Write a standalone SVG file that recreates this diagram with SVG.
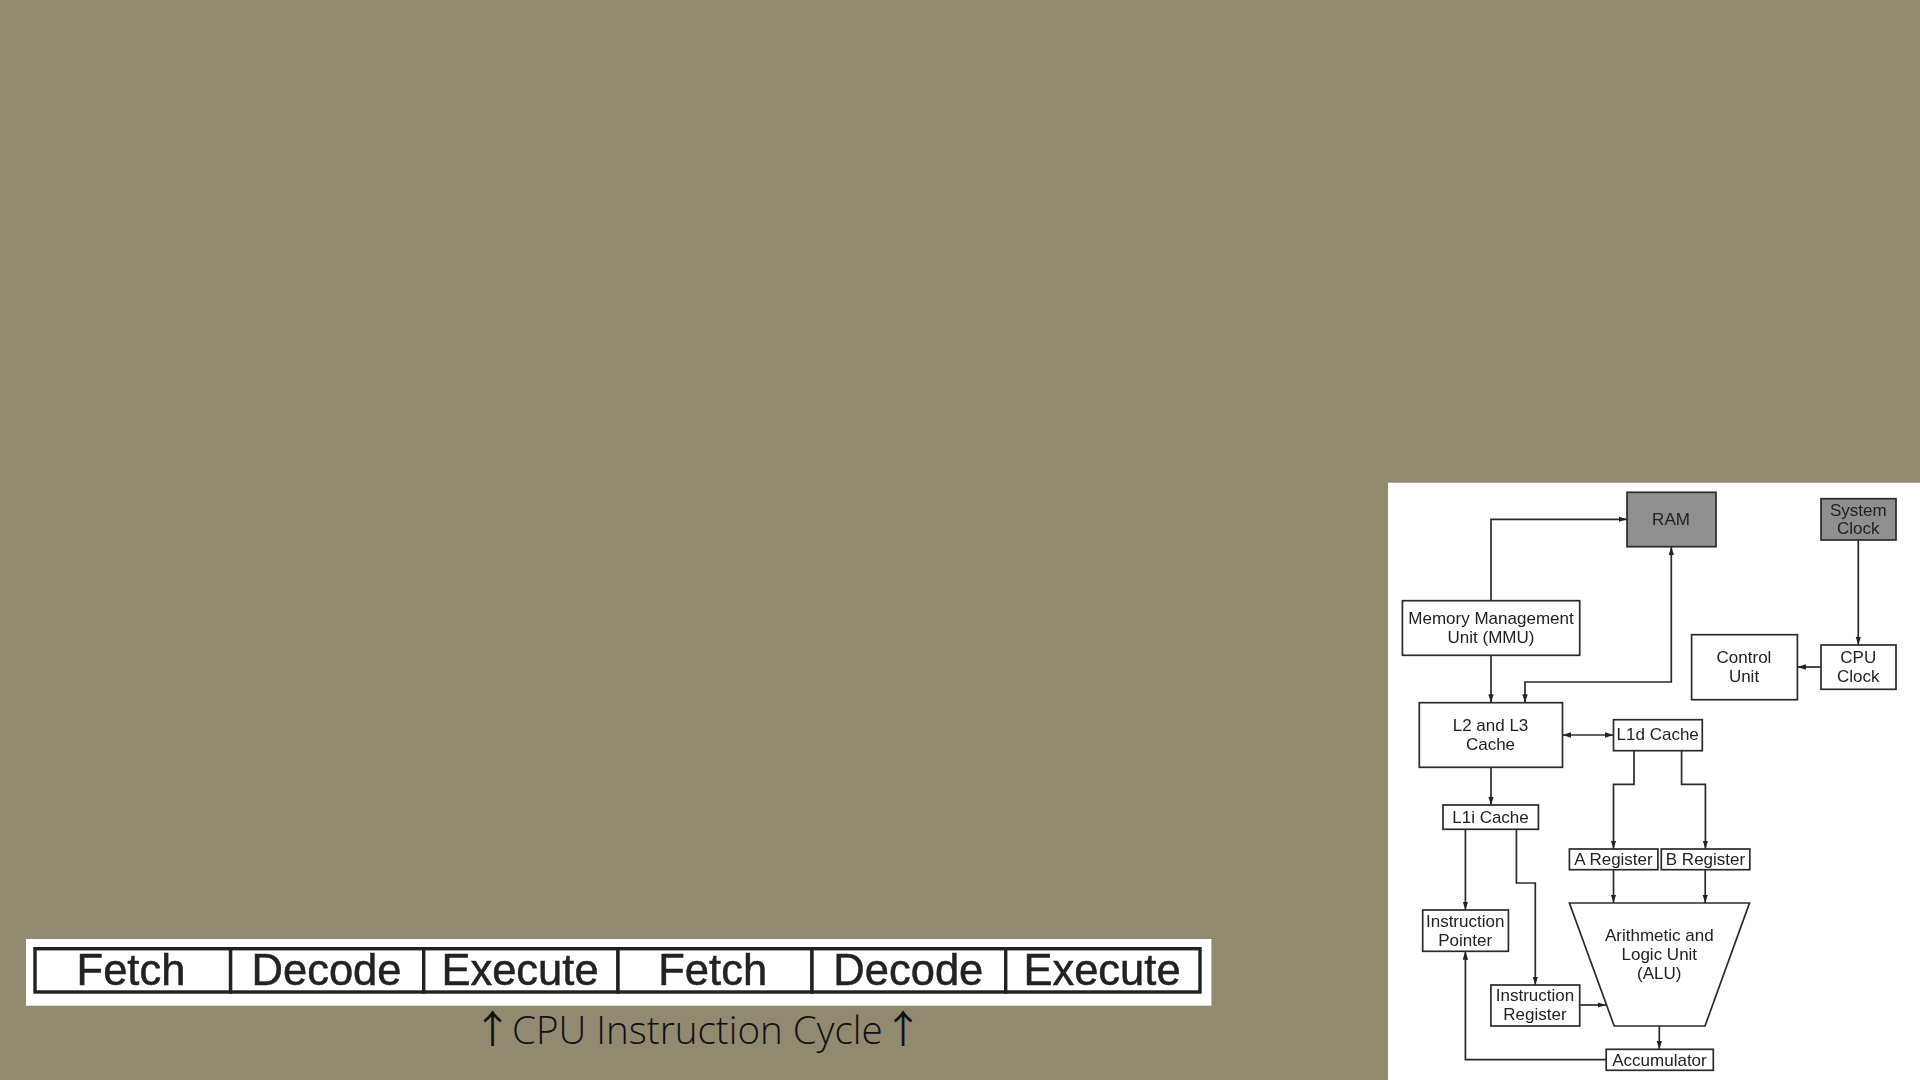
<svg xmlns="http://www.w3.org/2000/svg" width="1920" height="1080" viewBox="0 0 1920 1080">
<style>
.box{fill:#fff;stroke:#2b2b2b;stroke-width:1.7}
.dark{fill:#8f8f8f}
.t{font-family:"Liberation Sans",Arial,sans-serif;font-size:17px;fill:#222;text-anchor:middle}
.c{fill:none;stroke:#2b2b2b;stroke-width:1.7}
.cell{fill:#fff;stroke:#222;stroke-width:3.4}
.big{font-family:"Liberation Sans",Arial,sans-serif;font-size:43.5px;fill:#222;stroke:#222;stroke-width:.5;text-anchor:middle}
.cap{font-family:"Open Sans",sans-serif;font-weight:300;font-size:38.6px;fill:#111}
.arr{font-family:"Noto Sans CJK JP",sans-serif;font-size:38.6px;fill:#111;text-anchor:middle}
</style>
<defs>
<marker id="a" markerUnits="userSpaceOnUse" markerWidth="9" markerHeight="7" refX="8.5" refY="3.5" orient="auto-start-reverse"><path d="M0 .8L8.5 3.5L0 6.2z" fill="#222"/></marker>
<filter id="soft" x="-2%" y="-2%" width="104%" height="104%"><feGaussianBlur stdDeviation="0.5"/></filter>
<filter id="softer" x="-2%" y="-10%" width="104%" height="120%"><feGaussianBlur stdDeviation="0.75"/></filter>
</defs>
<rect width="1920" height="1080" fill="#918a70"/>
<rect id="panel" x="1388" y="482.7" width="532" height="597.3" fill="#fff"/>
<g filter="url(#soft)">
<g id="connectors">
<path class="c" marker-end="url(#a)" d="M1491 600.7V519.3H1627"/>
<path class="c" marker-end="url(#a)" d="M1491 655.3V702.7"/>
<path class="c" marker-start="url(#a)" marker-end="url(#a)" d="M1671.3 546.7V682H1525V702.7"/>
<path class="c" marker-end="url(#a)" d="M1858.3 540V645"/>
<path class="c" marker-end="url(#a)" d="M1821 667H1797.4"/>
<path class="c" marker-start="url(#a)" marker-end="url(#a)" d="M1562.5 735H1613.5"/>
<path class="c" marker-end="url(#a)" d="M1491 767.3V805"/>
<path class="c" marker-end="url(#a)" d="M1634 750.7V784.3H1613.5V849"/>
<path class="c" marker-end="url(#a)" d="M1681.6 750.7V784.3H1705.4V849"/>
<path class="c" marker-end="url(#a)" d="M1613.5 869.7V903"/>
<path class="c" marker-end="url(#a)" d="M1705.2 869.7V903"/>
<path class="c" marker-end="url(#a)" d="M1465.4 829.3V910"/>
<path class="c" marker-end="url(#a)" d="M1516.4 829.3V883H1535.3V985"/>
<path class="c" marker-end="url(#a)" d="M1579.7 1005H1606"/>
<path class="c" marker-end="url(#a)" d="M1659.3 1026V1049.3"/>
<path class="c" marker-end="url(#a)" d="M1606.2 1059.7H1465.4V951.3"/>
</g>
<g id="ram"><rect class="box dark" x="1627" y="492.3" width="89" height="54.4"/><text class="t" x="1671" y="525">RAM</text></g>
<g id="system-clock"><rect class="box dark" x="1821" y="498.7" width="75" height="41.3"/><text class="t" x="1858.3" y="515.7">System</text><text class="t" x="1858.3" y="534">Clock</text></g>
<g id="mmu"><rect class="box" x="1402.4" y="600.7" width="177.3" height="54.6"/><text class="t" x="1491" y="624.3">Memory Management</text><text class="t" x="1491" y="643.3">Unit (MMU)</text></g>
<g id="control-unit"><rect class="box" x="1691.6" y="634.7" width="105.8" height="65"/><text class="t" x="1744" y="663.3">Control</text><text class="t" x="1744" y="682.3">Unit</text></g>
<g id="cpu-clock"><rect class="box" x="1821" y="645" width="75" height="44.3"/><text class="t" x="1858.3" y="663.3">CPU</text><text class="t" x="1858.3" y="682.3">Clock</text></g>
<g id="l2-l3"><rect class="box" x="1419.3" y="702.7" width="143.2" height="64.6"/><text class="t" x="1490.5" y="731">L2 and L3</text><text class="t" x="1490.5" y="750.3">Cache</text></g>
<g id="l1d"><rect class="box" x="1613.5" y="719.7" width="88.8" height="31"/><text class="t" x="1657.7" y="740.4">L1d Cache</text></g>
<g id="l1i"><rect class="box" x="1443" y="805" width="95.4" height="24.3"/><text class="t" x="1490.5" y="823.3">L1i Cache</text></g>
<g id="a-register"><rect class="box" x="1569.4" y="849" width="88.5" height="20.7"/><text class="t" x="1613.5" y="865">A Register</text></g>
<g id="b-register"><rect class="box" x="1661.3" y="849" width="88.5" height="20.7"/><text class="t" x="1705.5" y="865">B Register</text></g>
<g id="alu"><path class="box" d="M1569.4 903H1749.5L1705 1026H1614.2z"/><text class="t" x="1659.3" y="941.4">Arithmetic and</text><text class="t" x="1659.3" y="960.4">Logic Unit</text><text class="t" x="1659.3" y="979.4">(ALU)</text></g>
<g id="instruction-pointer"><rect class="box" x="1422.7" y="910" width="85.7" height="41.3"/><text class="t" x="1465.2" y="927.3">Instruction</text><text class="t" x="1465.2" y="945.7">Pointer</text></g>
<g id="instruction-register"><rect class="box" x="1490.9" y="985" width="88.8" height="41"/><text class="t" x="1535" y="1001.4">Instruction</text><text class="t" x="1535" y="1020.4">Register</text></g>
<g id="accumulator"><rect class="box" x="1606.2" y="1049.3" width="107.1" height="21"/><text class="t" x="1659.5" y="1065.7">Accumulator</text></g>
</g>
<rect id="cycle-panel" x="26" y="939" width="1185.4" height="66.7" fill="#fff"/>
<g filter="url(#softer)">
<g id="cycle-1"><rect class="cell" x="35" y="948.7" width="195.6" height="43.3"/><text class="big" x="131" y="985">Fetch</text></g>
<g id="cycle-2"><rect class="cell" x="230.6" y="948.7" width="193.1" height="43.3"/><text class="big" x="326.5" y="985">Decode</text></g>
<g id="cycle-3"><rect class="cell" x="423.7" y="948.7" width="194.3" height="43.3"/><text class="big" x="520" y="985">Execute</text></g>
<g id="cycle-4"><rect class="cell" x="618" y="948.7" width="194" height="43.3"/><text class="big" x="712.7" y="985">Fetch</text></g>
<g id="cycle-5"><rect class="cell" x="812" y="948.7" width="193.7" height="43.3"/><text class="big" x="908.3" y="985">Decode</text></g>
<g id="cycle-6"><rect class="cell" x="1005.7" y="948.7" width="194.3" height="43.3"/><text class="big" x="1102" y="985">Execute</text></g>
</g>
<text class="arr" x="492.6" y="1043">↑</text>
<text class="cap" x="512" y="1044">CPU Instruction Cycle</text>
<text class="arr" x="903" y="1043">↑</text>
</svg>
